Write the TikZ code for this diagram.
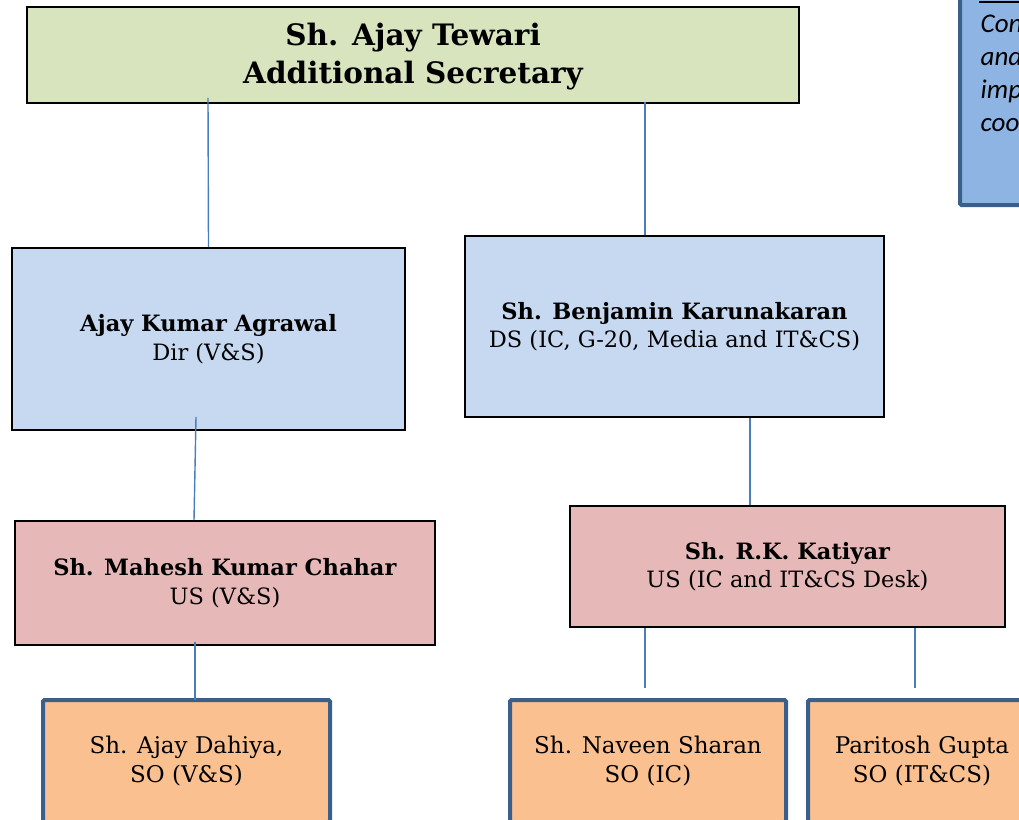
\documentclass[tikz,border=0pt]{standalone}
\usepackage{fontspec}
\setmainfont{DejaVu Serif}
\newfontfamily\calibri{Carlito}
\definecolor{titlefill}{HTML}{D7E4BD}
\definecolor{bluefill}{HTML}{C6D9F1}
\definecolor{pinkfill}{HTML}{E6B9B8}
\definecolor{orangefill}{HTML}{FAC090}
\definecolor{darkblue}{HTML}{3A5F8B}
\definecolor{notefill}{HTML}{8EB4E3}
\definecolor{connblue}{HTML}{4A7EBB}
\tikzset{
  box/.style={draw=black, line width=1.6pt, rectangle, inner sep=0pt, align=center,
    font=\fontsize{22.5}{28.5}\selectfont},
  titlebox/.style={box, fill=titlefill, font=\bfseries\fontsize{29.5}{38}\selectfont},
  dirbox/.style={box, fill=bluefill},
  usbox/.style={box, fill=pinkfill},
  sobox/.style={box, fill=orangefill, draw=darkblue, line width=4pt, rounded corners=1.5pt,
    font=\fontsize{23}{29}\selectfont},
  conn/.style={draw=connblue, line width=1.4pt},
}
\begin{document}
\begin{tikzpicture}[x=1pt, y=-1pt]
\useasboundingbox (0,0) rectangle (1019,819);
% note box at top right (cut off)
\node[draw=darkblue, fill=notefill, line width=4pt, rounded corners=1.5pt, rectangle,
  minimum width=100pt, minimum height=240pt, anchor=south west, inner sep=0pt] (note) at (958,207) {};
\coordinate (ulA) at (979,2);
\coordinate (ulB) at (1025,2);
\draw[black, line width=1.5pt] (ulA) -- (ulB);
\node[anchor=north west, inner sep=0pt, align=left, font=\calibri\itshape\fontsize{27}{33.3}\selectfont]
  (notetext) at (980.5,14.3) {Con\\and\\imp\\coo};

\node[titlebox, minimum width=772pt, minimum height=96pt] (top) at (413,55)
  {\rule{0pt}{25pt}Sh. Ajay Tewari\\Additional Secretary};
\node[dirbox, minimum width=393pt, minimum height=182pt] (A) at (208.5,339)
  {\textbf{Ajay Kumar Agrawal}\\Dir (V\&S)};
\node[dirbox, minimum width=419pt, minimum height=181pt] (B) at (674.5,326.5)
  {\textbf{Sh. Benjamin Karunakaran}\\DS (IC, G-20, Media and IT\&CS)};
\node[usbox, minimum width=420pt, minimum height=124pt] (C) at (225,583)
  {\textbf{Sh. Mahesh Kumar Chahar}\\US (V\&S)};
\node[usbox, minimum width=435pt, minimum height=121pt] (K) at (787.5,566.5)
  {\textbf{Sh. R.K. Katiyar}\\US (IC and IT\&CS Desk)};
\node[sobox, minimum width=287pt, minimum height=122pt] (D) at (186.5,761)
  {Sh. Ajay Dahiya,\\SO (V\&S)};
\node[sobox, minimum width=276pt, minimum height=122pt] (N) at (648,761)
  {Sh. Naveen Sharan\\SO (IC)};
\node[sobox, minimum width=228pt, minimum height=122pt] (P) at (922,761)
  {Paritosh Gupta\\SO (IT\&CS)};

\draw[conn] ([xshift=-205pt,yshift=6pt]top.south) -- (A.north);
\draw[conn] ([xshift=232pt,yshift=2pt]top.south) -- ([xshift=-29.5pt]B.north);
\draw[conn] ([xshift=-12.5pt,yshift=14pt]A.south) -- ([xshift=-31pt]C.north);
\draw[conn] ([xshift=-30pt,yshift=4pt]C.south) -- ([xshift=8.5pt,yshift=-2pt]D.north);
\draw[conn] ([xshift=-37.5pt]B.south -| K.north) -- ([xshift=-37.5pt]K.north);
\draw[conn] ([xshift=-142.5pt]K.south) -- ([xshift=-3pt,yshift=10pt]N.north);
\draw[conn] ([xshift=127.5pt]K.south) -- ([xshift=-7pt,yshift=10pt]P.north);
\end{tikzpicture}
\end{document}
